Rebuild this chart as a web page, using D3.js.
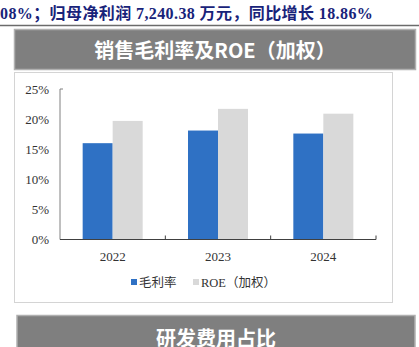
<!DOCTYPE html>
<html>
<head>
<meta charset="utf-8">
<script src="https://cdn.jsdelivr.net/npm/d3@7"></script>
<style>
  html, body { margin: 0; padding: 0; background: #fff; }
  svg { display: block; }
</style>
</head>
<body>
<svg id="chart" width="419" height="347"></svg>
<script>
// Data
const years = ["2022", "2023", "2024"];
const grossMargin = [16.0, 18.1, 17.6];   // 毛利率 (%)
const roeWeighted = [19.7, 21.7, 20.9];   // ROE（加权）(%)
const yTicks = [0, 5, 10, 15, 20, 25];
const seriesNames = ["毛利率", "ROE（加权）"];
const seriesColors = ["#2F71C4", "#D9D9D9"];

const svg = d3.select("#chart");
const serif = "'Liberation Serif', 'Times New Roman', 'Noto Sans CJK SC', serif";
const sans = "'Noto Sans CJK SC', 'Microsoft YaHei', sans-serif";

// Running text line above the section
svg.append("text")
  .attr("x", 0).attr("y", 19)
  .attr("font-family", serif)
  .attr("font-weight", "bold")
  .attr("font-size", 16)
  .attr("letter-spacing", 0.4)
  .attr("fill", "#18237A")
  .text("08%；归母净利润 7,240.38 万元，同比增长 18.86%");

svg.append("line")
  .attr("x1", 0).attr("x2", 419).attr("y1", 25.5).attr("y2", 25.5)
  .attr("stroke", "#6b6b6b").attr("stroke-width", 1.5);

// Section headers
function header(x, y, w, h, label, textY) {
  svg.append("rect")
    .attr("x", x).attr("y", y).attr("width", w).attr("height", h)
    .attr("fill", "#7F7F7F").attr("stroke", "#B0B0B0").attr("stroke-width", 1.5);
  svg.append("text")
    .attr("x", x + w / 2).attr("y", textY)
    .attr("text-anchor", "middle").attr("dominant-baseline", "central")
    .attr("font-family", sans).attr("font-weight", "bold")
    .attr("font-size", 20).attr("fill", "#fff")
    .text(label);
}
header(14.5, 29.5, 401, 40, "销售毛利率及ROE（加权）", 49.5);

// Chart panel
svg.append("rect")
  .attr("x", 14.5).attr("y", 72.5).attr("width", 378).attr("height", 230)
  .attr("fill", "#fff").attr("stroke", "#D4D4D4").attr("stroke-width", 1);

const plot = { left: 60, right: 376, top: 89, bottom: 239.5 };

const x = d3.scaleBand().domain(years).range([plot.left, plot.right]).padding(0);
const inner = d3.scaleBand().domain([0, 1]).range([0, 60]);
const y = d3.scaleLinear().domain([0, 25]).range([plot.bottom, plot.top]);

// Bars
const groups = svg.append("g").selectAll("g").data(years).join("g")
  .attr("transform", d => `translate(${x(d) + (x.bandwidth() - 60) / 2},0)`);

groups.selectAll("rect")
  .data((d, i) => [grossMargin[i], roeWeighted[i]].map((v, s) => ({ v, s })))
  .join("rect")
  .attr("x", d => inner(d.s))
  .attr("width", inner.bandwidth())
  .attr("y", d => y(d.v))
  .attr("height", d => y(0) - y(d.v))
  .attr("fill", d => seriesColors[d.s]);

// Y axis
const yAxis = d3.axisLeft(y).tickValues(yTicks).tickSize(0).tickPadding(11)
  .tickFormat(d => d + "%");
const yg = svg.append("g").attr("transform", `translate(${plot.left},0)`).call(yAxis);
yg.select(".domain").attr("stroke", "#808080").attr("d", `M0,${plot.top}V${plot.bottom}`);
yg.selectAll("text").attr("font-family", serif).attr("font-size", 13).attr("fill", "#333");
yg.append("line").attr("x1", 0).attr("x2", 3).attr("y1", plot.top).attr("y2", plot.top)
  .attr("stroke", "#808080");

// X axis with boundary ticks between categories
const xg = svg.append("g").attr("transform", `translate(0,${plot.bottom})`);
xg.append("line").attr("x1", plot.left).attr("x2", plot.right)
  .attr("stroke", "#404040").attr("stroke-width", 1);
xg.selectAll("line.tick").data(years).join("line")
  .attr("class", "tick")
  .attr("x1", d => x(d) + x.bandwidth())
  .attr("x2", d => x(d) + x.bandwidth())
  .attr("y1", 0).attr("y2", -4)
  .attr("stroke", "#404040");
xg.selectAll("text").data(years).join("text")
  .attr("x", d => x(d) + x.bandwidth() / 2)
  .attr("y", 21)
  .attr("text-anchor", "middle")
  .attr("font-family", serif).attr("font-size", 13).attr("fill", "#333")
  .text(d => d);

// Legend
const legendItems = [{ x: 131, i: 0 }, { x: 193, i: 1 }];
const lg = svg.append("g");
legendItems.forEach(it => {
  lg.append("rect").attr("x", it.x).attr("y", 279).attr("width", 6).attr("height", 6)
    .attr("fill", seriesColors[it.i]);
  lg.append("text").attr("x", it.x + 8).attr("y", 283)
    .attr("dominant-baseline", "central")
    .attr("font-family", serif).attr("font-size", 12.5).attr("fill", "#333")
    .text(seriesNames[it.i]);
});

header(17, 315.5, 398, 40, "研发费用占比", 337);
</script>
</body>
</html>
